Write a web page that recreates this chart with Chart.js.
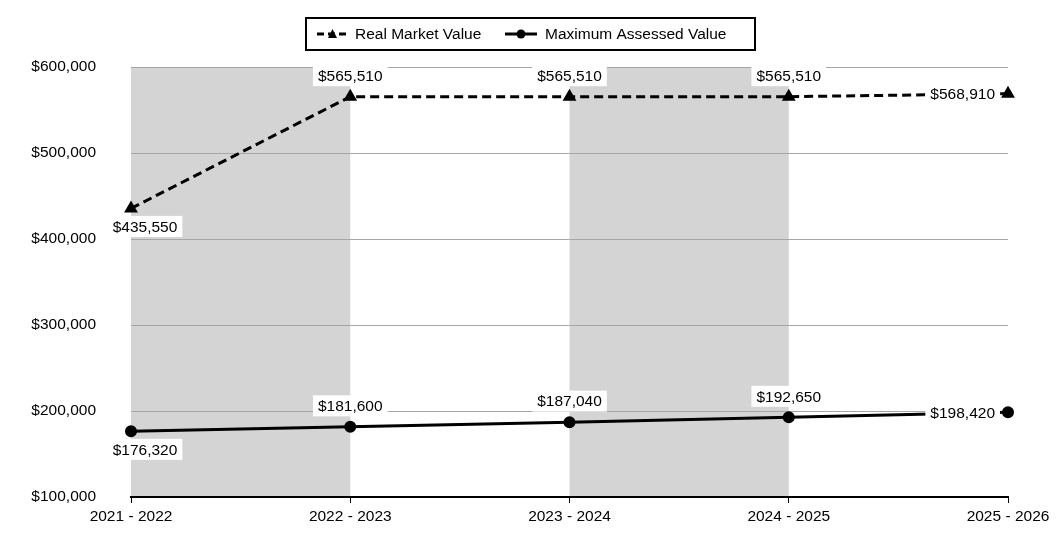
<!DOCTYPE html>
<html>
<head>
<meta charset="utf-8">
<script src="https://cdn.jsdelivr.net/npm/chart.js@4/dist/chart.umd.min.js"></script>
<style>
  body { margin: 0; background: #fff; }
  #wrap { width: 1061px; height: 538px; position: relative; }
</style>
</head>
<body>
<div id="wrap"><canvas id="valueChart"></canvas></div>
<script>
const years = ['2021 - 2022', '2022 - 2023', '2023 - 2024', '2024 - 2025', '2025 - 2026'];
const realMarketValue = [435550, 565510, 565510, 565510, 568910];
const maxAssessedValue = [176320, 181600, 187040, 192650, 198420];
const seriesNames = ['Real Market Value', 'Maximum Assessed Value'];

const FAMILY = '"Liberation Sans", Arial, sans-serif';
const FONT = '15.5px ' + FAMILY;
const money = v => '$' + v.toLocaleString('en-US');

// gray bands behind every other year
const bandPlugin = {
    id: 'bands',
    beforeDraw(chart) {
        const { ctx, chartArea, scales } = chart;
        ctx.save();
        ctx.fillStyle = '#d4d4d4';
        for (let i = 0; i < years.length - 1; i += 2) {
            const x0 = scales.x.getPixelForValue(i);
            const x1 = scales.x.getPixelForValue(i + 1);
            ctx.fillRect(x0, chartArea.top, x1 - x0, chartArea.bottom - chartArea.top);
        }
        ctx.restore();
    }
};

// value labels in white boxes
const labelPlugin = {
    id: 'valueLabels',
    afterDatasetsDraw(chart) {
        const { ctx } = chart;
        ctx.save();
        ctx.font = FONT;
        ctx.textBaseline = 'middle';
        ctx.textAlign = 'center';
        chart.data.datasets.forEach((ds, di) => {
            const meta = chart.getDatasetMeta(di);
            meta.data.forEach((pt, i) => {
                const text = money(ds.data[i]);
                const w = ctx.measureText(text).width;
                let cx, cy;
                if (i === 0) {
                    cx = pt.x + 14; cy = pt.y + 18;
                } else if (i === ds.data.length - 1) {
                    cx = pt.x - 13 - w / 2; cy = pt.y;
                } else {
                    cx = pt.x; cy = pt.y - 21;
                }
                ctx.fillStyle = '#fff';
                ctx.fillRect(cx - w / 2 - 5, cy - 10.5, w + 10, 21);
                ctx.fillStyle = '#000';
                ctx.fillText(text, cx, cy + 1);
            });
        });
        ctx.restore();
    }
};

// boxed legend at the top
const legendPlugin = {
    id: 'boxLegend',
    afterDraw(chart) {
        const { ctx } = chart;
        ctx.save();
        ctx.font = FONT;
        ctx.textBaseline = 'middle';
        ctx.textAlign = 'left';
        const left = 306, top = 18, right = 755, bottom = 50;
        const cy = (top + bottom) / 2;
        ctx.lineWidth = 2;
        ctx.strokeStyle = '#000';
        ctx.strokeRect(left, top, right - left, bottom - top);

        // real market value sample
        ctx.lineWidth = 3;
        ctx.setLineDash([7, 4]);
        ctx.beginPath(); ctx.moveTo(317, cy); ctx.lineTo(348, cy); ctx.stroke();
        ctx.setLineDash([]);
        ctx.fillStyle = '#000';
        ctx.beginPath();
        ctx.moveTo(332.5, cy - 5); ctx.lineTo(337, cy + 4); ctx.lineTo(328, cy + 4); ctx.closePath();
        ctx.fill();
        ctx.fillText(seriesNames[0], 355, cy + 1);

        // maximum assessed value sample
        ctx.beginPath(); ctx.moveTo(505, cy); ctx.lineTo(537, cy); ctx.stroke();
        ctx.beginPath(); ctx.arc(521, cy, 4.5, 0, Math.PI * 2); ctx.fill();
        ctx.fillText(seriesNames[1], 545, cy + 1);
        ctx.restore();
    }
};

new Chart(document.getElementById('valueChart'), {
    type: 'line',
    data: {
        labels: years,
        datasets: [
            {
                label: seriesNames[0],
                data: realMarketValue,
                borderColor: '#000',
                backgroundColor: '#000',
                borderWidth: 3,
                borderDash: [9, 5],
                pointStyle: 'triangle',
                pointRadius: 5,
                fill: false,
                tension: 0
            },
            {
                label: seriesNames[1],
                data: maxAssessedValue,
                borderColor: '#000',
                backgroundColor: '#000',
                borderWidth: 3,
                pointStyle: 'circle',
                pointRadius: 4.5,
                fill: false,
                tension: 0
            }
        ]
    },
    options: {
        responsive: true,
        maintainAspectRatio: false,
        animation: false,
        layout: { padding: { top: 67, right: 53, bottom: 0, left: 0 } },
        plugins: { legend: { display: false }, tooltip: { enabled: false } },
        scales: {
            x: {
                offset: false,
                afterFit(scale) { scale.height = 41; },
                border: { display: true, color: '#000', width: 2 },
                grid: { drawOnChartArea: false, drawTicks: true, tickLength: 6, color: '#000' },
                ticks: { color: '#000', font: { family: FAMILY, size: 15.5 }, maxRotation: 0, padding: 4 }
            },
            y: {
                min: 100000,
                max: 600000,
                afterFit(scale) {
                    scale.width = 131;
                    scale.paddingTop = 0;
                    scale.paddingBottom = 0;
                },
                border: { display: false },
                grid: { color: '#a6a6a6', lineWidth: 1, drawTicks: false },
                ticks: {
                    stepSize: 100000,
                    color: '#000',
                    padding: 35,
                    font: { family: FAMILY, size: 15.5 },
                    callback: v => money(v)
                }
            }
        }
    },
    plugins: [bandPlugin, labelPlugin, legendPlugin]
});
</script>
</body>
</html>
